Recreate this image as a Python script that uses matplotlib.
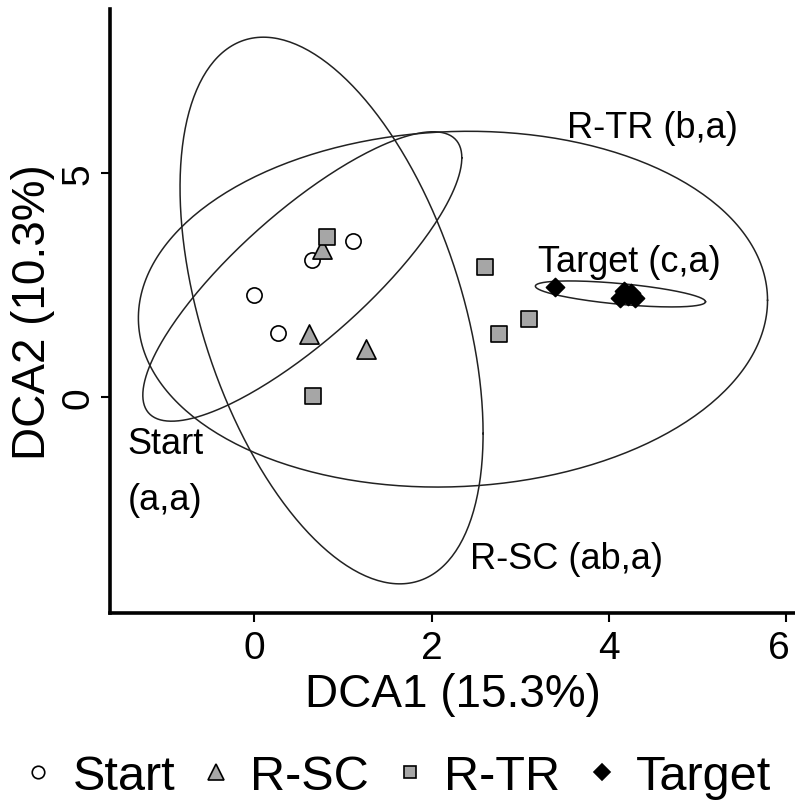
import matplotlib
matplotlib.use('Agg')
import matplotlib.pyplot as plt
import matplotlib.transforms as mtransforms
from matplotlib.lines import Line2D
import numpy as np

plt.rcParams['font.family'] = ['Liberation Sans', 'DejaVu Sans']

# site scores
start_x = [0.65, 1.11, 0.00, 0.26]
start_y = [3.06, 3.48, 2.28, 1.43]

rsc_x = [0.76, 0.61, 1.26]
rsc_y = [3.30, 1.41, 1.07]

rtr_x = [0.82, 0.66, 2.60, 3.10, 2.76]
rtr_y = [3.57, 0.02, 2.90, 1.74, 1.41]

target_x = [3.39, 4.17, 4.22, 4.30, 4.12, 4.25]
target_y = [2.46, 2.37, 2.26, 2.22, 2.22, 2.33]

# group ellipses: centre x, centre y, half range x, half range y, correlation
groups = ['Start', 'R-SC', 'R-TR', 'Target']
ell_cx = [0.54, 0.87, 2.24, 4.13]
ell_cy = [2.69, 1.93, 1.96, 2.30]
ell_ax = [1.80, 1.71, 3.55, 0.96]
ell_ay = [3.23, 6.10, 3.97, 0.29]
ell_rho = [0.82, -0.45, 0.05, -0.60]

group_labels = ['Start\n\n(a,a)', 'R-SC (ab,a)', 'R-TR (b,a)', 'Target (c,a)']
label_x = [-1.43, 2.43, 3.53, 3.20]
label_y = [-2.50, -3.82, 5.80, 2.81]

xticks = [0, 2, 4, 6]
yticks = [0, 5]

fig = plt.figure(figsize=(7.95, 8.03), dpi=100)
ax = fig.add_axes([0.1384, 0.2354, 0.8616, 0.7522])

t = np.linspace(0, 2 * np.pi, 300)
for cx, cy, a, b, r in zip(ell_cx, ell_cy, ell_ax, ell_ay, ell_rho):
    phi = np.arccos(r)
    ax.plot(cx + a * np.cos(t), cy + b * np.cos(t - phi), color='#222222', lw=1.1)

gray = '#a6a6a6'
ax.scatter(start_x, start_y, marker='o', s=120, facecolor='white', edgecolor='black', lw=1.2, zorder=3)
ax.scatter(rsc_x, rsc_y, marker='^', s=190, facecolor=gray, edgecolor='black', lw=1.2, zorder=3)
ax.scatter(rtr_x, rtr_y, marker='s', s=120, facecolor=gray, edgecolor='black', lw=1.2, zorder=3)
ax.scatter(target_x, target_y, marker='D', s=85, facecolor='black', edgecolor='black', lw=1.2, zorder=3)

for txt, lx, ly in zip(group_labels, label_x, label_y):
    ax.text(lx, ly, txt, fontsize=26, ha='left', va='baseline', linespacing=0.75)

ax.set_xlim(-1.63, 6.10)
ax.set_ylim(-4.82, 8.66)
ax.set_xticks(xticks)
ax.set_yticks(yticks)
ax.spines['top'].set_visible(False)
ax.spines['right'].set_visible(False)
ax.spines['left'].set_linewidth(2.6)
ax.spines['bottom'].set_linewidth(2.6)
ax.tick_params(length=6.5, width=1.5, labelsize=28)
ax.tick_params(axis='x', pad=6)
ax.tick_params(axis='y', pad=3)
plt.setp(ax.get_yticklabels(), rotation=90, va='center')

# last x tick label sits right at the figure edge, nudge it in a little
last = ax.get_xticklabels()[-1]
last.set_transform(last.get_transform() + mtransforms.ScaledTranslation(-5 / 72, 0, fig.dpi_scale_trans))

ax.set_xlabel('DCA1 (15.3%)', fontsize=33, labelpad=4)
ax.set_ylabel('DCA2 (10.3%)', fontsize=33)
ax.yaxis.set_label_coords(-0.08, 0.5)

handles = [
    Line2D([], [], ls='none', marker='o', ms=9, mfc='white', mec='black', mew=1.2),
    Line2D([], [], ls='none', marker='^', ms=11, mfc=gray, mec='black', mew=1.2),
    Line2D([], [], ls='none', marker='s', ms=9, mfc=gray, mec='black', mew=1.2),
    Line2D([], [], ls='none', marker='D', ms=8, mfc='black', mec='black', mew=1.2),
]
fig.legend(handles, groups, loc='lower center', bbox_to_anchor=(0.5, -0.02), ncol=4,
           frameon=False, fontsize=35, handlelength=0.6, handletextpad=0.4,
           columnspacing=0.55, borderaxespad=0)

fig.savefig('out.png', dpi=100)
